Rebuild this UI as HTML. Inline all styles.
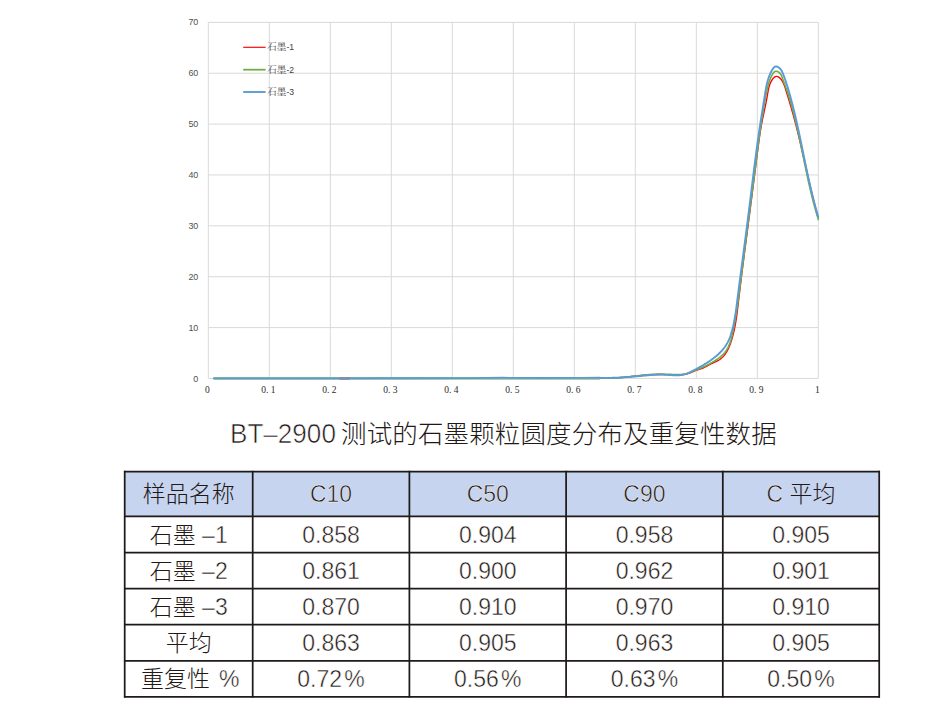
<!DOCTYPE html>
<html><head><meta charset="utf-8"><title>BT-2900 石墨颗粒圆度</title>
<style>
html,body{margin:0;padding:0;background:#fff;width:942px;height:722px;overflow:hidden}
svg{display:block}
.g line{stroke:#d9d9d9;stroke-width:1;shape-rendering:auto}
.yl{font-family:"Liberation Sans","Noto Sans CJK SC",sans-serif;font-size:9.6px;fill:#505050;text-anchor:end}
.xl{font-family:"Liberation Serif","Noto Serif CJK SC",serif;font-size:9.5px;fill:#2a2a2a;text-anchor:middle}
.lg{font-family:"Liberation Serif","Noto Serif CJK SC",serif;font-size:9.6px;fill:#404040}
.lgn{font-family:"Liberation Sans",sans-serif;font-size:8.6px}
.cv{fill:none;stroke-linejoin:round;stroke-linecap:round}
.title{font-family:"Liberation Sans","Noto Sans CJK SC",sans-serif;font-size:25.5px;font-weight:300;fill:#231815}
.lt{stroke:#fff;stroke-width:0.45px}
.lt2{stroke:#fff;stroke-width:0.6px}
.tl line{stroke:#1f1a1a;stroke-width:1.75}
.tt{font-family:"Liberation Sans","Noto Sans CJK SC",sans-serif;font-size:23px;font-weight:300;fill:#231815;text-anchor:middle}
</style></head>
<body>
<svg width="942" height="722" viewBox="0 0 942 722">
<rect width="942" height="722" fill="#fff"/>
<g class="g"><line x1="208.30" y1="22.35" x2="208.30" y2="378.45"/><line x1="269.30" y1="22.35" x2="269.30" y2="378.45"/><line x1="330.30" y1="22.35" x2="330.30" y2="378.45"/><line x1="391.30" y1="22.35" x2="391.30" y2="378.45"/><line x1="452.30" y1="22.35" x2="452.30" y2="378.45"/><line x1="513.30" y1="22.35" x2="513.30" y2="378.45"/><line x1="574.30" y1="22.35" x2="574.30" y2="378.45"/><line x1="635.30" y1="22.35" x2="635.30" y2="378.45"/><line x1="696.30" y1="22.35" x2="696.30" y2="378.45"/><line x1="757.30" y1="22.35" x2="757.30" y2="378.45"/><line x1="818.30" y1="22.35" x2="818.30" y2="378.45"/><line x1="208.30" y1="22.35" x2="818.30" y2="22.35"/><line x1="208.30" y1="73.22" x2="818.30" y2="73.22"/><line x1="208.30" y1="124.09" x2="818.30" y2="124.09"/><line x1="208.30" y1="174.96" x2="818.30" y2="174.96"/><line x1="208.30" y1="225.84" x2="818.30" y2="225.84"/><line x1="208.30" y1="276.71" x2="818.30" y2="276.71"/><line x1="208.30" y1="327.58" x2="818.30" y2="327.58"/><line x1="208.30" y1="378.45" x2="818.30" y2="378.45"/></g>
<g class="yl"><text x="198.3" y="25.45" textLength="9.9" lengthAdjust="spacingAndGlyphs">70</text><text x="198.3" y="76.32" textLength="9.9" lengthAdjust="spacingAndGlyphs">60</text><text x="198.3" y="127.19" textLength="9.9" lengthAdjust="spacingAndGlyphs">50</text><text x="198.3" y="178.06" textLength="9.9" lengthAdjust="spacingAndGlyphs">40</text><text x="198.3" y="228.94" textLength="9.9" lengthAdjust="spacingAndGlyphs">30</text><text x="198.3" y="279.81" textLength="9.9" lengthAdjust="spacingAndGlyphs">20</text><text x="198.3" y="330.68" textLength="9.9" lengthAdjust="spacingAndGlyphs">10</text><text x="198.3" y="381.55" textLength="5.0" lengthAdjust="spacingAndGlyphs">0</text></g>
<g class="xl"><text x="207.30" y="392.8">0</text><text x="268.30" y="392.8">0. 1</text><text x="329.30" y="392.8">0. 2</text><text x="390.30" y="392.8">0. 3</text><text x="451.30" y="392.8">0. 4</text><text x="512.30" y="392.8">0. 5</text><text x="573.30" y="392.8">0. 6</text><text x="634.30" y="392.8">0. 7</text><text x="695.30" y="392.8">0. 8</text><text x="756.30" y="392.8">0. 9</text><text x="817.30" y="392.8">1</text></g>
<path class="cv" d="M213.80,378.40L300.00,378.40L400.00,378.30L470.00,378.10L503.00,377.80L540.00,378.00L580.00,377.90L600.00,377.80L600.81,377.85L601.62,377.90L602.43,377.95L603.25,377.99L604.06,378.02L604.87,378.05L605.68,378.07L606.49,378.08L607.30,378.09L608.10,378.09L608.91,378.09L609.72,378.08L610.53,378.07L611.34,378.05L612.15,378.03L612.96,378.00L613.76,377.97L614.57,377.94L615.38,377.90L616.19,377.86L616.99,377.81L617.80,377.76L618.61,377.71L619.41,377.65L620.22,377.59L621.03,377.53L621.83,377.46L622.64,377.39L623.44,377.32L624.25,377.25L625.05,377.18L625.86,377.10L626.67,377.02L627.47,376.94L628.28,376.86L629.08,376.78L629.89,376.70L630.69,376.62L631.50,376.53L632.30,376.45L633.11,376.36L633.91,376.28L634.72,376.20L635.52,376.11L636.33,376.03L637.13,375.94L637.94,375.86L638.74,375.78L639.55,375.70L640.35,375.62L641.16,375.54L641.97,375.47L642.77,375.39L643.58,375.32L644.38,375.25L645.19,375.18L645.99,375.11L646.80,375.05L647.61,374.99L648.41,374.93L649.22,374.88L650.02,374.83L650.83,374.78L651.64,374.74L652.44,374.70L653.25,374.66L654.06,374.63L654.87,374.60L655.67,374.58L656.48,374.56L657.29,374.55L658.10,374.54L658.90,374.54L659.71,374.54L660.52,374.54L661.33,374.54L662.14,374.55L662.95,374.57L663.75,374.58L664.56,374.60L665.37,374.62L666.18,374.64L666.99,374.66L667.79,374.69L668.60,374.72L669.41,374.74L670.21,374.77L671.02,374.80L671.83,374.83L672.63,374.86L673.44,374.89L674.24,374.91L675.05,374.93L675.85,374.94L676.66,374.95L677.46,374.94L678.26,374.93L679.06,374.91L679.87,374.87L680.67,374.82L681.47,374.76L682.27,374.68L683.07,374.58L683.87,374.46L684.67,374.33L685.46,374.17L686.26,373.99L687.06,373.79L687.85,373.56L688.64,373.32L689.42,373.06L690.19,372.79L690.96,372.50L691.71,372.20L692.45,371.90L693.18,371.58L693.91,371.27L694.63,370.96L695.36,370.66L696.10,370.37L696.86,370.10L697.63,369.84L698.41,369.60L699.20,369.35L699.98,369.11L700.77,368.86L701.54,368.60L702.30,368.31L703.04,368.01L703.78,367.69L704.50,367.36L705.21,367.01L705.91,366.65L706.61,366.28L707.31,365.90L708.01,365.52L708.71,365.14L709.42,364.76L710.13,364.38L710.85,364.01L711.58,363.64L712.32,363.29L713.07,362.94L713.84,362.59L714.60,362.25L715.37,361.91L716.12,361.55L716.87,361.19L717.61,360.81L718.33,360.42L719.02,360.00L719.69,359.56L720.34,359.09L720.97,358.60L721.57,358.10L722.16,357.57L722.72,357.02L723.27,356.45L723.79,355.87L724.29,355.26L724.78,354.65L725.25,354.01L725.71,353.36L726.14,352.70L726.56,352.02L726.97,351.33L727.36,350.63L727.73,349.92L728.10,349.20L728.45,348.47L728.79,347.73L729.11,346.98L729.43,346.23L729.73,345.46L730.03,344.70L730.31,343.93L730.59,343.15L730.86,342.37L731.12,341.59L731.37,340.81L731.62,340.03L731.86,339.24L732.09,338.46L732.32,337.67L732.54,336.89L732.76,336.10L732.97,335.31L733.17,334.52L733.37,333.74L733.57,332.95L733.76,332.16L733.94,331.37L734.12,330.58L734.29,329.78L734.46,328.99L734.63,328.20L734.79,327.41L734.95,326.61L735.10,325.82L735.25,325.03L735.40,324.23L735.54,323.44L735.68,322.64L735.81,321.84L735.94,321.05L736.07,320.25L736.19,319.45L736.32,318.66L736.44,317.86L736.55,317.06L736.67,316.26L736.78,315.46L736.89,314.66L737.00,313.86L737.10,313.07L737.21,312.27L737.31,311.47L737.41,310.67L737.51,309.86L737.61,309.06L737.70,308.26L737.80,307.46L737.89,306.66L737.99,305.86L738.08,305.06L738.17,304.26L738.27,303.46L738.36,302.65L738.45,301.85L738.54,301.05L738.63,300.25L738.73,299.45L738.82,298.65L738.91,297.84L739.01,297.04L739.10,296.24L739.19,295.44L739.29,294.64L739.38,293.83L739.48,293.03L739.57,292.23L739.67,291.43L739.76,290.63L739.86,289.82L739.95,289.02L740.05,288.22L740.15,287.42L740.24,286.62L740.34,285.81L740.44,285.01L740.54,284.21L740.63,283.41L740.73,282.61L740.83,281.80L740.93,281.00L741.03,280.20L741.13,279.40L741.23,278.60L741.33,277.79L741.43,276.99L741.53,276.19L741.63,275.39L741.73,274.58L741.83,273.78L741.93,272.98L742.03,272.18L742.13,271.38L742.23,270.57L742.33,269.77L742.43,268.97L742.53,268.17L742.64,267.36L742.74,266.56L742.84,265.76L742.94,264.96L743.05,264.16L743.15,263.35L743.25,262.55L743.35,261.75L743.46,260.95L743.56,260.14L743.66,259.34L743.77,258.54L743.87,257.74L743.97,256.93L744.08,256.13L744.18,255.33L744.29,254.53L744.39,253.73L744.49,252.92L744.60,252.12L744.70,251.32L744.81,250.52L744.91,249.71L745.02,248.91L745.12,248.11L745.23,247.31L745.33,246.50L745.44,245.70L745.54,244.90L745.65,244.10L745.75,243.30L745.86,242.49L745.96,241.69L746.07,240.89L746.17,240.09L746.28,239.28L746.38,238.48L746.49,237.68L746.59,236.88L746.70,236.08L746.80,235.27L746.91,234.47L747.01,233.67L747.12,232.87L747.22,232.06L747.33,231.26L747.43,230.46L747.54,229.66L747.65,228.85L747.75,228.05L747.86,227.25L747.96,226.45L748.07,225.65L748.17,224.84L748.28,224.04L748.38,223.24L748.49,222.44L748.59,221.64L748.70,220.83L748.80,220.03L748.91,219.23L749.01,218.43L749.12,217.62L749.22,216.82L749.32,216.02L749.43,215.22L749.53,214.42L749.64,213.61L749.74,212.81L749.85,212.01L749.95,211.21L750.05,210.41L750.16,209.60L750.26,208.80L750.37,208.00L750.47,207.20L750.57,206.40L750.68,205.59L750.78,204.79L750.88,203.99L750.98,203.19L751.09,202.39L751.19,201.59L751.29,200.78L751.40,199.98L751.50,199.18L751.60,198.38L751.70,197.58L751.81,196.77L751.91,195.97L752.01,195.17L752.11,194.37L752.22,193.57L752.32,192.77L752.42,191.96L752.52,191.16L752.63,190.36L752.73,189.56L752.83,188.76L752.93,187.96L753.03,187.15L753.14,186.35L753.24,185.55L753.34,184.75L753.44,183.95L753.54,183.15L753.65,182.34L753.75,181.54L753.85,180.74L753.95,179.94L754.05,179.14L754.15,178.34L754.26,177.53L754.36,176.73L754.46,175.93L754.56,175.13L754.66,174.33L754.76,173.53L754.87,172.72L754.97,171.92L755.07,171.12L755.17,170.32L755.27,169.52L755.37,168.72L755.48,167.92L755.58,167.11L755.68,166.31L755.78,165.51L755.88,164.71L755.99,163.91L756.09,163.11L756.19,162.30L756.29,161.50L756.39,160.70L756.50,159.90L756.60,159.10L756.70,158.30L756.80,157.50L756.90,156.69L757.01,155.89L757.11,155.09L757.21,154.29L757.31,153.49L757.42,152.69L757.52,151.89L757.62,151.08L757.72,150.28L757.83,149.48L757.93,148.68L758.03,147.88L758.14,147.08L758.24,146.28L758.34,145.47L758.45,144.67L758.55,143.87L758.66,143.07L758.77,142.27L758.88,141.47L758.98,140.67L759.09,139.87L759.20,139.07L759.32,138.27L759.43,137.47L759.54,136.67L759.66,135.87L759.78,135.07L759.90,134.27L760.02,133.47L760.14,132.67L760.27,131.87L760.39,131.07L760.52,130.28L760.65,129.48L760.79,128.68L760.92,127.88L761.06,127.09L761.20,126.29L761.35,125.49L761.49,124.70L761.64,123.90L761.79,123.11L761.94,122.31L762.10,121.52L762.26,120.72L762.42,119.93L762.58,119.14L762.74,118.34L762.90,117.55L763.07,116.76L763.23,115.97L763.40,115.17L763.57,114.38L763.74,113.59L763.91,112.80L764.08,112.00L764.24,111.21L764.41,110.42L764.58,109.63L764.75,108.84L764.92,108.05L765.09,107.25L765.25,106.46L765.42,105.67L765.58,104.88L765.74,104.09L765.91,103.30L766.06,102.50L766.22,101.71L766.38,100.92L766.53,100.13L766.68,99.34L766.83,98.54L766.98,97.75L767.12,96.96L767.26,96.16L767.40,95.37L767.53,94.58L767.66,93.78L767.80,92.99L767.93,92.20L768.07,91.41L768.21,90.62L768.36,89.83L768.53,89.04L768.70,88.26L768.89,87.48L769.10,86.70L769.32,85.93L769.57,85.16L769.84,84.39L770.14,83.63L770.46,82.88L770.81,82.13L771.19,81.38L771.61,80.64L772.07,79.91L772.56,79.19L773.08,78.51L773.64,77.88L774.24,77.33L774.86,76.88L775.52,76.57L776.20,76.41L776.91,76.43L777.63,76.62L778.34,76.95L779.02,77.38L779.66,77.87L780.25,78.41L780.81,79.01L781.32,79.64L781.79,80.32L782.24,81.02L782.65,81.76L783.03,82.51L783.39,83.28L783.72,84.05L784.03,84.83L784.33,85.60L784.61,86.37L784.87,87.13L785.13,87.89L785.37,88.65L785.62,89.41L785.86,90.17L786.10,90.93L786.33,91.69L786.57,92.45L786.81,93.22L787.05,93.98L787.28,94.75L787.52,95.52L787.76,96.28L787.99,97.05L788.23,97.82L788.46,98.59L788.69,99.36L788.93,100.13L789.16,100.91L789.39,101.68L789.62,102.45L789.85,103.23L790.08,104.00L790.31,104.78L790.54,105.56L790.76,106.33L790.99,107.11L791.22,107.89L791.44,108.67L791.66,109.45L791.89,110.23L792.11,111.01L792.33,111.79L792.55,112.57L792.76,113.35L792.98,114.13L793.20,114.91L793.41,115.69L793.63,116.47L793.84,117.26L794.05,118.04L794.26,118.82L794.47,119.60L794.68,120.39L794.88,121.17L795.09,121.95L795.30,122.74L795.50,123.52L795.70,124.30L795.91,125.09L796.11,125.87L796.31,126.65L796.51,127.44L796.71,128.22L796.90,129.01L797.10,129.79L797.30,130.58L797.49,131.36L797.69,132.15L797.88,132.93L798.08,133.72L798.27,134.50L798.46,135.29L798.65,136.07L798.84,136.86L799.03,137.65L799.22,138.43L799.41,139.22L799.60,140.01L799.78,140.79L799.97,141.58L800.16,142.36L800.34,143.15L800.53,143.94L800.71,144.72L800.90,145.51L801.08,146.30L801.27,147.09L801.45,147.87L801.63,148.66L801.81,149.45L802.00,150.23L802.18,151.02L802.36,151.81L802.54,152.60L802.72,153.38L802.90,154.17L803.08,154.96L803.26,155.75L803.44,156.54L803.62,157.32L803.80,158.11L803.98,158.90L804.16,159.69L804.34,160.47L804.51,161.26L804.69,162.05L804.87,162.84L805.05,163.63L805.23,164.41L805.41,165.20L805.59,165.99L805.77,166.78L805.94,167.56L806.12,168.35L806.30,169.14L806.48,169.93L806.66,170.72L806.84,171.50L807.02,172.29L807.20,173.08L807.38,173.87L807.56,174.65L807.74,175.44L807.92,176.23L808.10,177.02L808.28,177.80L808.46,178.59L808.64,179.38L808.82,180.17L809.01,180.95L809.19,181.74L809.37,182.53L809.55,183.31L809.74,184.10L809.92,184.89L810.11,185.67L810.29,186.46L810.48,187.25L810.66,188.03L810.85,188.82L811.04,189.60L811.22,190.39L811.41,191.18L811.60,191.96L811.79,192.75L811.98,193.53L812.17,194.32L812.36,195.10L812.56,195.89L812.75,196.67L812.94,197.46L813.14,198.24L813.33,199.03L813.53,199.81L813.72,200.60L813.92,201.38L814.12,202.17L814.32,202.95L814.52,203.73L814.72,204.52L814.92,205.30L815.12,206.08L815.33,206.87L815.53,207.65L815.74,208.43L815.95,209.21L816.15,210.00L816.36,210.78L816.57,211.56L816.78,212.34L816.99,213.12L817.21,213.91L817.42,214.69L817.64,215.47L817.85,216.25L818.07,217.03L818.29,217.81" stroke="#ff0000" stroke-width="1.35"/>
<path class="cv" d="M213.80,378.40L300.00,378.40L400.00,378.30L470.00,378.10L503.00,377.80L540.00,378.00L580.00,377.90L600.00,377.80L600.83,377.86L601.65,377.93L602.47,377.98L603.30,378.03L604.12,378.07L604.94,378.11L605.77,378.14L606.59,378.16L607.41,378.17L608.24,378.17L609.06,378.17L609.88,378.17L610.71,378.16L611.53,378.14L612.35,378.12L613.17,378.09L613.99,378.05L614.82,378.01L615.64,377.97L616.46,377.92L617.28,377.87L618.10,377.81L618.92,377.75L619.74,377.69L620.57,377.62L621.39,377.55L622.21,377.47L623.03,377.39L623.85,377.31L624.67,377.23L625.49,377.14L626.31,377.06L627.13,376.97L627.95,376.88L628.77,376.78L629.59,376.69L630.41,376.59L631.23,376.50L632.05,376.40L632.87,376.30L633.69,376.21L634.51,376.11L635.33,376.01L636.15,375.91L636.97,375.82L637.79,375.72L638.61,375.63L639.43,375.53L640.25,375.44L641.07,375.35L641.89,375.26L642.71,375.17L643.52,375.08L644.34,375.00L645.16,374.92L645.98,374.84L646.80,374.77L647.62,374.69L648.44,374.63L649.26,374.56L650.08,374.50L650.90,374.44L651.72,374.39L652.54,374.34L653.35,374.30L654.17,374.26L654.99,374.22L655.81,374.19L656.63,374.17L657.45,374.15L658.27,374.14L659.09,374.13L659.91,374.12L660.73,374.12L661.55,374.12L662.37,374.13L663.19,374.14L664.01,374.16L664.83,374.18L665.65,374.20L666.48,374.22L667.30,374.25L668.12,374.28L668.95,374.31L669.77,374.34L670.60,374.37L671.42,374.41L672.25,374.45L673.07,374.48L673.90,374.51L674.73,374.54L675.55,374.57L676.38,374.58L677.20,374.59L678.02,374.59L678.85,374.57L679.66,374.55L680.48,374.51L681.30,374.45L682.11,374.37L682.92,374.28L683.72,374.17L684.53,374.03L685.32,373.87L686.12,373.69L686.91,373.48L687.70,373.24L688.48,372.99L689.26,372.71L690.04,372.43L690.81,372.12L691.58,371.81L692.35,371.49L693.12,371.17L693.89,370.84L694.66,370.51L695.43,370.19L696.19,369.87L696.96,369.56L697.73,369.25L698.50,368.95L699.26,368.65L700.02,368.35L700.78,368.05L701.54,367.74L702.29,367.43L703.03,367.10L703.77,366.77L704.51,366.44L705.24,366.09L705.97,365.74L706.69,365.37L707.42,365.01L708.14,364.63L708.86,364.24L709.58,363.85L710.29,363.45L711.01,363.05L711.73,362.63L712.45,362.21L713.16,361.79L713.88,361.35L714.59,360.91L715.31,360.46L716.01,360.00L716.71,359.53L717.41,359.05L718.09,358.57L718.77,358.07L719.44,357.56L720.09,357.04L720.73,356.52L721.36,355.97L721.97,355.42L722.57,354.86L723.14,354.28L723.70,353.69L724.24,353.09L724.76,352.47L725.26,351.84L725.73,351.20L726.19,350.54L726.63,349.87L727.04,349.19L727.44,348.50L727.83,347.80L728.19,347.08L728.54,346.36L728.87,345.63L729.19,344.89L729.50,344.14L729.79,343.38L730.07,342.62L730.33,341.85L730.59,341.07L730.83,340.28L731.07,339.50L731.29,338.70L731.51,337.90L731.71,337.10L731.91,336.29L732.11,335.48L732.29,334.66L732.47,333.85L732.65,333.03L732.82,332.21L732.99,331.39L733.16,330.57L733.32,329.75L733.48,328.93L733.64,328.11L733.80,327.29L733.95,326.47L734.11,325.65L734.26,324.83L734.41,324.01L734.56,323.20L734.71,322.38L734.85,321.56L735.00,320.74L735.14,319.93L735.28,319.11L735.42,318.29L735.56,317.48L735.70,316.66L735.83,315.84L735.97,315.03L736.10,314.21L736.23,313.40L736.36,312.58L736.49,311.77L736.62,310.95L736.75,310.14L736.87,309.32L737.00,308.51L737.12,307.69L737.24,306.88L737.36,306.06L737.48,305.25L737.60,304.44L737.72,303.62L737.84,302.81L737.96,302.00L738.07,301.18L738.19,300.37L738.30,299.56L738.41,298.74L738.52,297.93L738.63,297.12L738.75,296.30L738.86,295.49L738.96,294.68L739.07,293.87L739.18,293.05L739.29,292.24L739.39,291.43L739.50,290.62L739.61,289.80L739.71,288.99L739.82,288.18L739.92,287.37L740.02,286.55L740.13,285.74L740.23,284.93L740.33,284.12L740.44,283.31L740.54,282.49L740.64,281.68L740.74,280.87L740.84,280.06L740.94,279.24L741.05,278.43L741.15,277.62L741.25,276.80L741.35,275.99L741.45,275.18L741.55,274.37L741.65,273.55L741.75,272.74L741.85,271.93L741.95,271.11L742.06,270.30L742.16,269.49L742.26,268.67L742.36,267.86L742.46,267.04L742.56,266.23L742.67,265.42L742.77,264.60L742.87,263.79L742.97,262.97L743.08,262.16L743.18,261.34L743.28,260.53L743.39,259.71L743.49,258.90L743.59,258.08L743.70,257.27L743.80,256.45L743.90,255.64L744.01,254.82L744.11,254.01L744.22,253.19L744.32,252.37L744.43,251.56L744.53,250.74L744.64,249.93L744.74,249.11L744.85,248.29L744.95,247.48L745.06,246.66L745.16,245.84L745.27,245.03L745.37,244.21L745.48,243.39L745.58,242.58L745.69,241.76L745.79,240.94L745.90,240.13L746.01,239.31L746.11,238.49L746.22,237.68L746.33,236.86L746.43,236.04L746.54,235.23L746.64,234.41L746.75,233.59L746.86,232.77L746.96,231.96L747.07,231.14L747.18,230.32L747.28,229.50L747.39,228.69L747.50,227.87L747.60,227.05L747.71,226.23L747.82,225.42L747.92,224.60L748.03,223.78L748.14,222.96L748.25,222.15L748.35,221.33L748.46,220.51L748.57,219.69L748.67,218.87L748.78,218.06L748.89,217.24L748.99,216.42L749.10,215.60L749.21,214.79L749.32,213.97L749.42,213.15L749.53,212.33L749.64,211.52L749.74,210.70L749.85,209.88L749.96,209.06L750.06,208.24L750.17,207.43L750.28,206.61L750.39,205.79L750.49,204.97L750.60,204.16L750.71,203.34L750.81,202.52L750.92,201.70L751.03,200.89L751.13,200.07L751.24,199.25L751.35,198.43L751.45,197.62L751.56,196.80L751.67,195.98L751.77,195.16L751.88,194.35L751.98,193.53L752.09,192.71L752.20,191.90L752.30,191.08L752.41,190.26L752.51,189.44L752.62,188.63L752.73,187.81L752.83,186.99L752.94,186.18L753.04,185.36L753.15,184.54L753.25,183.73L753.36,182.91L753.46,182.09L753.57,181.28L753.67,180.46L753.78,179.65L753.88,178.83L753.99,178.01L754.09,177.20L754.19,176.38L754.30,175.57L754.40,174.75L754.51,173.94L754.61,173.12L754.71,172.30L754.82,171.49L754.92,170.67L755.02,169.86L755.13,169.04L755.23,168.23L755.33,167.41L755.44,166.60L755.54,165.78L755.64,164.97L755.75,164.15L755.85,163.34L755.95,162.52L756.06,161.71L756.16,160.90L756.27,160.08L756.37,159.27L756.47,158.45L756.58,157.64L756.68,156.82L756.79,156.01L756.89,155.19L757.00,154.38L757.10,153.57L757.21,152.75L757.31,151.94L757.42,151.12L757.52,150.31L757.63,149.50L757.73,148.68L757.84,147.87L757.95,147.05L758.06,146.24L758.16,145.42L758.27,144.61L758.38,143.80L758.49,142.98L758.60,142.17L758.70,141.35L758.81,140.54L758.92,139.73L759.03,138.91L759.14,138.10L759.26,137.28L759.37,136.47L759.48,135.65L759.59,134.84L759.70,134.03L759.82,133.21L759.93,132.40L760.05,131.58L760.16,130.77L760.28,129.95L760.39,129.14L760.51,128.32L760.63,127.51L760.74,126.69L760.86,125.88L760.98,125.06L761.10,124.25L761.22,123.43L761.34,122.62L761.46,121.80L761.58,120.99L761.71,120.17L761.83,119.36L761.95,118.54L762.08,117.73L762.20,116.91L762.33,116.10L762.46,115.28L762.58,114.47L762.71,113.65L762.84,112.83L762.97,112.02L763.10,111.20L763.23,110.39L763.37,109.57L763.50,108.76L763.64,107.94L763.77,107.13L763.91,106.31L764.05,105.50L764.19,104.69L764.33,103.87L764.48,103.06L764.62,102.25L764.77,101.44L764.92,100.63L765.07,99.82L765.22,99.01L765.37,98.20L765.53,97.40L765.68,96.59L765.84,95.79L766.01,94.98L766.17,94.18L766.33,93.38L766.50,92.58L766.67,91.78L766.85,90.98L767.02,90.18L767.20,89.39L767.38,88.59L767.56,87.80L767.75,87.01L767.94,86.22L768.13,85.43L768.34,84.65L768.55,83.86L768.77,83.08L769.01,82.30L769.26,81.52L769.52,80.74L769.80,79.96L770.09,79.18L770.41,78.40L770.75,77.63L771.11,76.86L771.49,76.08L771.90,75.31L772.33,74.54L772.79,73.79L773.29,73.08L773.82,72.45L774.39,71.91L775.01,71.51L775.67,71.26L776.39,71.20L777.15,71.34L777.92,71.66L778.65,72.09L779.31,72.60L779.89,73.18L780.40,73.81L780.86,74.49L781.26,75.21L781.61,75.96L781.93,76.74L782.23,77.53L782.50,78.34L782.77,79.15L783.04,79.96L783.31,80.75L783.59,81.53L783.88,82.31L784.17,83.08L784.46,83.84L784.75,84.60L785.04,85.37L785.33,86.13L785.61,86.90L785.89,87.67L786.16,88.43L786.44,89.21L786.71,89.98L786.98,90.75L787.24,91.53L787.50,92.30L787.76,93.08L788.02,93.86L788.27,94.64L788.52,95.42L788.77,96.20L789.01,96.99L789.26,97.77L789.50,98.56L789.74,99.34L789.97,100.13L790.21,100.92L790.44,101.71L790.67,102.50L790.90,103.29L791.12,104.08L791.34,104.88L791.56,105.67L791.78,106.46L792.00,107.26L792.22,108.05L792.43,108.85L792.64,109.65L792.85,110.44L793.06,111.24L793.27,112.04L793.47,112.84L793.68,113.63L793.88,114.43L794.08,115.23L794.28,116.03L794.48,116.83L794.68,117.63L794.87,118.43L795.07,119.23L795.26,120.03L795.45,120.84L795.64,121.64L795.83,122.44L796.02,123.24L796.21,124.04L796.39,124.84L796.58,125.65L796.76,126.45L796.95,127.25L797.13,128.05L797.31,128.86L797.49,129.66L797.67,130.46L797.85,131.27L798.03,132.07L798.21,132.87L798.38,133.68L798.56,134.48L798.73,135.29L798.91,136.09L799.08,136.90L799.26,137.70L799.43,138.50L799.60,139.31L799.77,140.11L799.94,140.92L800.11,141.72L800.28,142.53L800.45,143.34L800.62,144.14L800.79,144.95L800.96,145.75L801.12,146.56L801.29,147.36L801.46,148.17L801.63,148.97L801.79,149.78L801.96,150.59L802.12,151.39L802.29,152.20L802.46,153.00L802.62,153.81L802.79,154.61L802.95,155.42L803.12,156.23L803.28,157.03L803.45,157.84L803.61,158.64L803.78,159.45L803.95,160.25L804.11,161.06L804.28,161.87L804.44,162.67L804.61,163.48L804.78,164.28L804.94,165.09L805.11,165.89L805.28,166.70L805.45,167.50L805.61,168.31L805.78,169.11L805.95,169.92L806.12,170.72L806.29,171.53L806.46,172.33L806.63,173.14L806.80,173.94L806.97,174.74L807.15,175.55L807.32,176.35L807.49,177.16L807.67,177.96L807.84,178.76L808.02,179.57L808.19,180.37L808.37,181.17L808.55,181.98L808.73,182.78L808.91,183.58L809.09,184.38L809.27,185.18L809.45,185.99L809.64,186.79L809.82,187.59L810.01,188.39L810.19,189.19L810.38,189.99L810.57,190.79L810.76,191.59L810.95,192.39L811.14,193.19L811.34,193.99L811.53,194.79L811.73,195.59L811.92,196.39L812.12,197.19L812.32,197.98L812.52,198.78L812.72,199.58L812.93,200.38L813.13,201.17L813.34,201.97L813.55,202.77L813.76,203.56L813.97,204.36L814.18,205.15L814.40,205.95L814.61,206.74L814.83,207.54L815.05,208.33L815.27,209.12L815.49,209.92L815.72,210.71L815.95,211.50L816.17,212.29L816.40,213.08L816.64,213.88L816.87,214.67L817.10,215.46L817.34,216.25L817.58,217.04L817.82,217.83L818.07,218.61L818.31,219.40" stroke="#70ad47" stroke-width="1.6"/>
<line x1="214" y1="378.4" x2="600" y2="378.4" stroke="#9cc08c" stroke-width="2.7"/>
<line x1="339.2" y1="378.45" x2="350" y2="378.45" stroke="#c47a6c" stroke-width="2.8"/>
<path class="cv" d="M213.80,378.40L300.00,378.40L400.00,378.30L470.00,378.10L503.00,377.80L540.00,378.00L580.00,377.90L600.00,377.80L600.84,377.83L601.67,377.85L602.51,377.86L603.34,377.88L604.18,377.89L605.01,377.89L605.84,377.90L606.67,377.90L607.51,377.90L608.34,377.89L609.17,377.88L610.00,377.87L610.83,377.86L611.66,377.84L612.49,377.82L613.32,377.80L614.15,377.77L614.98,377.74L615.81,377.71L616.63,377.68L617.46,377.64L618.29,377.61L619.12,377.57L619.94,377.52L620.77,377.48L621.60,377.44L622.42,377.39L623.25,377.34L624.08,377.29L624.90,377.23L625.73,377.18L626.55,377.12L627.38,377.06L628.21,377.00L629.03,376.94L629.86,376.88L630.68,376.82L631.51,376.75L632.33,376.68L633.16,376.62L633.99,376.55L634.81,376.48L635.64,376.41L636.46,376.34L637.29,376.27L638.12,376.19L638.94,376.12L639.77,376.04L640.60,375.97L641.42,375.90L642.25,375.82L643.08,375.74L643.91,375.67L644.74,375.59L645.56,375.52L646.39,375.44L647.22,375.36L648.05,375.29L648.88,375.21L649.71,375.14L650.54,375.07L651.37,375.00L652.20,374.94L653.03,374.88L653.86,374.82L654.69,374.77L655.52,374.72L656.34,374.68L657.17,374.65L658.00,374.62L658.83,374.60L659.65,374.59L660.48,374.59L661.30,374.59L662.13,374.61L662.95,374.63L663.78,374.66L664.60,374.69L665.42,374.74L666.25,374.78L667.08,374.83L667.90,374.88L668.73,374.94L669.56,374.99L670.39,375.05L671.23,375.10L672.07,375.16L672.90,375.21L673.74,375.25L674.58,375.29L675.42,375.31L676.26,375.32L677.10,375.32L677.93,375.30L678.76,375.26L679.58,375.20L680.40,375.12L681.21,375.01L682.02,374.87L682.82,374.71L683.62,374.52L684.41,374.31L685.19,374.08L685.97,373.82L686.75,373.55L687.52,373.26L688.29,372.96L689.05,372.63L689.81,372.30L690.56,371.95L691.31,371.59L692.06,371.22L692.81,370.84L693.55,370.46L694.30,370.07L695.04,369.67L695.77,369.28L696.51,368.88L697.25,368.47L697.98,368.07L698.71,367.67L699.44,367.26L700.17,366.85L700.90,366.44L701.62,366.03L702.34,365.62L703.06,365.20L703.78,364.78L704.49,364.35L705.20,363.92L705.91,363.49L706.61,363.05L707.31,362.61L708.01,362.16L708.70,361.71L709.38,361.25L710.07,360.78L710.74,360.31L711.42,359.84L712.09,359.35L712.75,358.86L713.41,358.37L714.06,357.86L714.70,357.35L715.34,356.83L715.98,356.31L716.61,355.77L717.23,355.22L717.84,354.67L718.45,354.11L719.05,353.54L719.65,352.95L720.23,352.36L720.81,351.76L721.38,351.15L721.94,350.53L722.49,349.91L723.02,349.27L723.55,348.62L724.07,347.97L724.57,347.30L725.06,346.63L725.53,345.94L725.99,345.25L726.44,344.55L726.87,343.84L727.29,343.12L727.69,342.39L728.07,341.66L728.44,340.91L728.79,340.16L729.12,339.40L729.44,338.63L729.74,337.85L730.03,337.07L730.30,336.28L730.57,335.49L730.82,334.70L731.07,333.90L731.31,333.11L731.55,332.31L731.78,331.51L732.00,330.71L732.21,329.91L732.42,329.11L732.63,328.30L732.82,327.50L733.02,326.69L733.20,325.88L733.39,325.07L733.56,324.26L733.73,323.45L733.90,322.64L734.06,321.83L734.22,321.02L734.38,320.20L734.53,319.39L734.67,318.57L734.81,317.76L734.95,316.94L735.09,316.12L735.22,315.30L735.35,314.48L735.48,313.66L735.60,312.84L735.72,312.02L735.84,311.20L735.96,310.38L736.07,309.56L736.19,308.74L736.30,307.91L736.41,307.09L736.52,306.27L736.62,305.45L736.73,304.62L736.84,303.80L736.94,302.97L737.05,302.15L737.15,301.33L737.25,300.50L737.36,299.68L737.46,298.85L737.57,298.03L737.67,297.21L737.78,296.38L737.88,295.56L737.99,294.74L738.09,293.91L738.20,293.09L738.30,292.27L738.41,291.44L738.52,290.62L738.62,289.79L738.73,288.97L738.83,288.15L738.94,287.32L739.05,286.50L739.15,285.68L739.26,284.85L739.37,284.03L739.47,283.21L739.58,282.38L739.69,281.56L739.80,280.74L739.90,279.92L740.01,279.09L740.12,278.27L740.23,277.45L740.33,276.62L740.44,275.80L740.55,274.98L740.66,274.15L740.76,273.33L740.87,272.51L740.98,271.68L741.09,270.86L741.20,270.04L741.30,269.22L741.41,268.39L741.52,267.57L741.63,266.75L741.74,265.92L741.85,265.10L741.95,264.28L742.06,263.46L742.17,262.63L742.28,261.81L742.39,260.99L742.50,260.16L742.61,259.34L742.71,258.52L742.82,257.70L742.93,256.87L743.04,256.05L743.15,255.23L743.26,254.41L743.36,253.58L743.47,252.76L743.58,251.94L743.69,251.11L743.80,250.29L743.91,249.47L744.01,248.65L744.12,247.82L744.23,247.00L744.34,246.18L744.45,245.36L744.55,244.53L744.66,243.71L744.77,242.89L744.88,242.06L744.99,241.24L745.09,240.42L745.20,239.60L745.31,238.77L745.42,237.95L745.52,237.13L745.63,236.30L745.74,235.48L745.85,234.66L745.95,233.84L746.06,233.01L746.17,232.19L746.27,231.37L746.38,230.54L746.49,229.72L746.59,228.90L746.70,228.08L746.81,227.25L746.91,226.43L747.02,225.61L747.12,224.78L747.23,223.96L747.34,223.14L747.44,222.31L747.55,221.49L747.65,220.67L747.76,219.85L747.86,219.02L747.97,218.20L748.07,217.38L748.18,216.55L748.28,215.73L748.38,214.91L748.49,214.08L748.59,213.26L748.70,212.44L748.80,211.61L748.90,210.79L749.01,209.97L749.11,209.14L749.21,208.32L749.31,207.50L749.42,206.67L749.52,205.85L749.62,205.02L749.72,204.20L749.82,203.38L749.93,202.55L750.03,201.73L750.13,200.91L750.23,200.08L750.33,199.26L750.43,198.43L750.54,197.61L750.64,196.79L750.74,195.96L750.84,195.14L750.94,194.32L751.04,193.49L751.14,192.67L751.24,191.84L751.35,191.02L751.45,190.20L751.55,189.37L751.65,188.55L751.75,187.73L751.85,186.90L751.95,186.08L752.06,185.25L752.16,184.43L752.26,183.61L752.36,182.78L752.46,181.96L752.56,181.14L752.66,180.31L752.77,179.49L752.87,178.66L752.97,177.84L753.07,177.02L753.18,176.19L753.28,175.37L753.38,174.55L753.48,173.72L753.59,172.90L753.69,172.08L753.79,171.25L753.90,170.43L754.00,169.60L754.10,168.78L754.21,167.96L754.31,167.13L754.42,166.31L754.52,165.49L754.63,164.66L754.73,163.84L754.84,163.02L754.94,162.19L755.05,161.37L755.16,160.55L755.26,159.73L755.37,158.90L755.48,158.08L755.58,157.26L755.69,156.43L755.80,155.61L755.91,154.79L756.02,153.97L756.12,153.14L756.23,152.32L756.34,151.50L756.45,150.67L756.56,149.85L756.67,149.03L756.78,148.21L756.90,147.38L757.01,146.56L757.12,145.74L757.23,144.92L757.35,144.10L757.46,143.27L757.57,142.45L757.69,141.63L757.80,140.81L757.92,139.99L758.03,139.16L758.15,138.34L758.27,137.52L758.38,136.70L758.50,135.88L758.62,135.06L758.74,134.24L758.86,133.41L758.98,132.59L759.10,131.77L759.22,130.95L759.34,130.13L759.46,129.31L759.58,128.49L759.70,127.67L759.83,126.85L759.95,126.03L760.08,125.21L760.20,124.39L760.33,123.57L760.45,122.75L760.58,121.93L760.71,121.11L760.83,120.29L760.96,119.47L761.09,118.65L761.22,117.83L761.35,117.01L761.48,116.19L761.61,115.37L761.74,114.55L761.87,113.73L762.00,112.91L762.13,112.09L762.26,111.27L762.39,110.45L762.52,109.63L762.66,108.81L762.79,108.00L762.92,107.18L763.05,106.36L763.18,105.54L763.32,104.72L763.45,103.90L763.58,103.08L763.71,102.26L763.84,101.44L763.98,100.62L764.11,99.81L764.24,98.99L764.37,98.17L764.50,97.35L764.63,96.53L764.76,95.71L764.89,94.89L765.02,94.07L765.15,93.25L765.29,92.44L765.42,91.62L765.56,90.80L765.69,89.98L765.84,89.17L765.98,88.35L766.14,87.54L766.29,86.73L766.46,85.92L766.63,85.11L766.80,84.30L766.99,83.49L767.18,82.69L767.39,81.89L767.60,81.09L767.83,80.29L768.06,79.49L768.31,78.70L768.57,77.91L768.84,77.12L769.13,76.34L769.43,75.56L769.75,74.78L770.08,74.01L770.43,73.24L770.80,72.47L771.18,71.71L771.59,70.95L772.01,70.20L772.45,69.45L772.91,68.73L773.41,68.05L773.94,67.46L774.50,66.98L775.12,66.63L775.78,66.46L776.50,66.47L777.26,66.67L778.01,67.01L778.72,67.44L779.36,67.95L779.95,68.52L780.49,69.14L780.99,69.81L781.44,70.53L781.86,71.28L782.24,72.06L782.60,72.85L782.94,73.66L783.27,74.47L783.58,75.29L783.88,76.09L784.18,76.89L784.47,77.69L784.75,78.48L785.03,79.26L785.30,80.05L785.56,80.83L785.82,81.60L786.08,82.38L786.33,83.16L786.58,83.94L786.83,84.71L787.08,85.49L787.32,86.27L787.56,87.05L787.80,87.84L788.04,88.62L788.28,89.41L788.51,90.20L788.74,90.98L788.97,91.77L789.20,92.57L789.43,93.36L789.66,94.15L789.88,94.95L790.11,95.74L790.33,96.54L790.55,97.34L790.77,98.14L790.99,98.94L791.20,99.74L791.42,100.54L791.63,101.34L791.84,102.14L792.05,102.95L792.26,103.75L792.47,104.56L792.68,105.36L792.88,106.17L793.08,106.98L793.29,107.78L793.49,108.59L793.69,109.40L793.89,110.21L794.08,111.02L794.28,111.83L794.47,112.64L794.67,113.45L794.86,114.26L795.05,115.07L795.24,115.88L795.43,116.69L795.62,117.50L795.81,118.31L796.00,119.12L796.18,119.93L796.37,120.75L796.55,121.56L796.73,122.37L796.91,123.18L797.10,123.99L797.28,124.80L797.46,125.61L797.63,126.43L797.81,127.24L797.99,128.05L798.17,128.86L798.34,129.67L798.52,130.49L798.69,131.30L798.87,132.11L799.04,132.92L799.21,133.74L799.38,134.55L799.56,135.36L799.73,136.17L799.90,136.99L800.07,137.80L800.24,138.61L800.41,139.42L800.58,140.24L800.74,141.05L800.91,141.86L801.08,142.67L801.25,143.49L801.42,144.30L801.58,145.11L801.75,145.92L801.92,146.74L802.08,147.55L802.25,148.36L802.42,149.17L802.58,149.99L802.75,150.80L802.91,151.61L803.08,152.42L803.25,153.24L803.41,154.05L803.58,154.86L803.74,155.67L803.91,156.49L804.08,157.30L804.24,158.11L804.41,158.92L804.58,159.73L804.74,160.55L804.91,161.36L805.08,162.17L805.24,162.98L805.41,163.79L805.58,164.61L805.75,165.42L805.92,166.23L806.09,167.04L806.26,167.85L806.43,168.66L806.60,169.47L806.77,170.28L806.94,171.09L807.11,171.91L807.28,172.72L807.46,173.53L807.63,174.34L807.80,175.15L807.98,175.96L808.16,176.77L808.33,177.58L808.51,178.39L808.69,179.20L808.86,180.00L809.04,180.81L809.22,181.62L809.40,182.43L809.59,183.24L809.77,184.05L809.95,184.86L810.14,185.67L810.32,186.47L810.51,187.28L810.70,188.09L810.88,188.90L811.07,189.70L811.26,190.51L811.45,191.32L811.65,192.12L811.84,192.93L812.03,193.74L812.23,194.54L812.43,195.35L812.63,196.16L812.83,196.96L813.03,197.77L813.23,198.57L813.43,199.38L813.64,200.18L813.84,200.98L814.05,201.79L814.26,202.59L814.47,203.40L814.68,204.20L814.89,205.00L815.11,205.81L815.33,206.61L815.54,207.41L815.76,208.21L815.98,209.01L816.21,209.82L816.43,210.62L816.66,211.42L816.88,212.22L817.11,213.02L817.34,213.82L817.58,214.62L817.81,215.42L818.05,216.22L818.28,217.02" stroke="#5b9bd5" stroke-width="1.9"/>

<g>
<line x1="243.2" y1="47.3" x2="265.6" y2="47.3" stroke="#ff0000" stroke-width="1.15"/>
<line x1="243.2" y1="69.7" x2="265.6" y2="69.7" stroke="#70ad47" stroke-width="1.8"/>
<line x1="243.2" y1="92" x2="265.6" y2="92" stroke="#5b9bd5" stroke-width="1.9"/>
</g>
<g class="lg">
<text x="267.2" y="50.2">石墨<tspan class="lgn">-1</tspan></text>
<text x="267.2" y="72.6">石墨<tspan class="lgn">-2</tspan></text>
<text x="267.2" y="94.9">石墨<tspan class="lgn">-3</tspan></text>
</g>
<text class="title lt2" x="230.0" y="442.8" style="font-size:27.4px" textLength="105.9" lengthAdjust="spacingAndGlyphs">BT–2900</text>
<text class="title" x="341.0" y="442.8" letter-spacing="0.14">测试的石墨颗粒圆度分布及重复性数据</text>
<rect x="124.7" y="471.5" width="754.5" height="44.799999999999955" fill="#c6d4ef"/>
<g class="tl"><line x1="124.70" y1="470.75" x2="124.70" y2="697.65"/><line x1="252.70" y1="470.75" x2="252.70" y2="697.65"/><line x1="409.40" y1="470.75" x2="409.40" y2="697.65"/><line x1="566.10" y1="470.75" x2="566.10" y2="697.65"/><line x1="722.80" y1="470.75" x2="722.80" y2="697.65"/><line x1="879.20" y1="470.75" x2="879.20" y2="697.65"/><line x1="123.95" y1="471.50" x2="879.95" y2="471.50"/><line x1="123.95" y1="516.30" x2="879.95" y2="516.30"/><line x1="123.95" y1="552.50" x2="879.95" y2="552.50"/><line x1="123.95" y1="588.60" x2="879.95" y2="588.60"/><line x1="123.95" y1="624.70" x2="879.95" y2="624.70"/><line x1="123.95" y1="660.80" x2="879.95" y2="660.80"/><line x1="123.95" y1="696.90" x2="879.95" y2="696.90"/></g>
<g class="tt"><text x="188.70" y="502.20">样品名称</text><text x="331.05" y="502.20"><tspan class="lt">C10</tspan></text><text x="487.75" y="502.20"><tspan class="lt">C50</tspan></text><text x="644.45" y="502.20"><tspan class="lt">C90</tspan></text><text x="801.00" y="502.20"><tspan class="lt">C </tspan>平均</text><text x="188.70" y="542.70">石墨<tspan class="lt"> –1</tspan></text><text x="331.05" y="542.70"><tspan class="lt">0.858</tspan></text><text x="487.75" y="542.70"><tspan class="lt">0.904</tspan></text><text x="644.45" y="542.70"><tspan class="lt">0.958</tspan></text><text x="801.00" y="542.70"><tspan class="lt">0.905</tspan></text><text x="188.70" y="578.85">石墨<tspan class="lt"> –2</tspan></text><text x="331.05" y="578.85"><tspan class="lt">0.861</tspan></text><text x="487.75" y="578.85"><tspan class="lt">0.900</tspan></text><text x="644.45" y="578.85"><tspan class="lt">0.962</tspan></text><text x="801.00" y="578.85"><tspan class="lt">0.901</tspan></text><text x="188.70" y="614.95">石墨<tspan class="lt"> –3</tspan></text><text x="331.05" y="614.95"><tspan class="lt">0.870</tspan></text><text x="487.75" y="614.95"><tspan class="lt">0.910</tspan></text><text x="644.45" y="614.95"><tspan class="lt">0.970</tspan></text><text x="801.00" y="614.95"><tspan class="lt">0.910</tspan></text><text x="188.70" y="651.05">平均</text><text x="331.05" y="651.05"><tspan class="lt">0.863</tspan></text><text x="487.75" y="651.05"><tspan class="lt">0.905</tspan></text><text x="644.45" y="651.05"><tspan class="lt">0.963</tspan></text><text x="801.00" y="651.05"><tspan class="lt">0.905</tspan></text><text x="190.20" y="687.15">重复性<tspan class="lt"> <tspan dx="2.5">%</tspan></tspan></text><text x="331.05" y="687.15"><tspan class="lt">0.72<tspan dx="2.2">%</tspan></tspan></text><text x="487.75" y="687.15"><tspan class="lt">0.56<tspan dx="2.2">%</tspan></tspan></text><text x="644.45" y="687.15"><tspan class="lt">0.63<tspan dx="2.2">%</tspan></tspan></text><text x="801.00" y="687.15"><tspan class="lt">0.50<tspan dx="2.2">%</tspan></tspan></text></g>
</svg>
</body></html>
